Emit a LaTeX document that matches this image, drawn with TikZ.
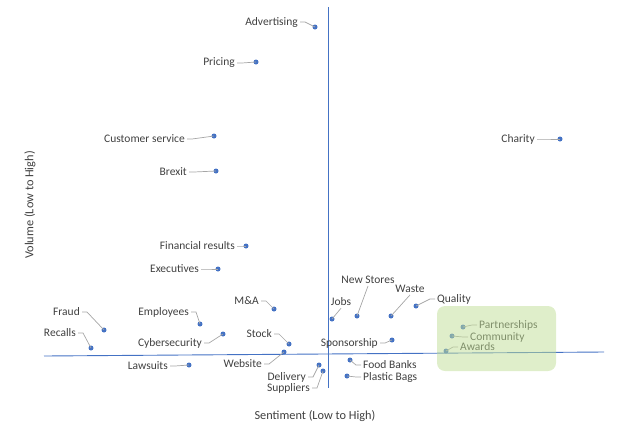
\documentclass[tikz,border=0pt]{standalone}
\usepackage{fontspec}
\setmainfont{Carlito}
\usepackage{tikz}

\definecolor{dotblue}{RGB}{68,114,196}
\definecolor{leadgray}{RGB}{166,166,166}
\definecolor{txtgray}{RGB}{64,64,64}
\definecolor{boxgreen}{RGB}{192,222,150}

\tikzset{
    dot/.style={circle,fill=dotblue,inner sep=0pt,minimum size=5pt},
    lbl/.style={inner sep=0pt,text=txtgray,font=\fontsize{11.5}{13}\selectfont},
    leader/.style={draw=leadgray,line width=0.7pt},
    axisline/.style={draw=dotblue,line width=0.9pt},
    axistitle/.style={text=txtgray,font=\fontsize{12.3}{14}\selectfont}
}

\begin{document}
\begin{tikzpicture}[x=1pt,y=-1pt] % pixel coordinates, y pointing down
        \useasboundingbox (0,0) rectangle (621,445);

        % the two axes through the middle
        \coordinate (hleft) at (44,356);
        \coordinate (hright) at (604,352);
        \coordinate (vtop) at (328,7);
        \coordinate (vbot) at (328,388);
        \draw[axisline] (hleft) -- (hright);
        \draw[axisline] (vtop) -- (vbot);

        \node[axistitle] (xtitle) at (315,416) {Sentiment (Low to High)};
        \node[axistitle,rotate=90] (ytitle) at (30,205) {Volume (Low to High)};

        \foreach \n/\x/\y in {adv/315/27, pri/256/62, cus/214/136, bre/216/171, fin/246/246,
            exe/218/269, cha/560/139, fra/104/330, rec/91/348, emp/200/324, mna/274/309,
            cyb/223/334, sto/289/344, web/284/352, law/189/365, del/319/365, sup/323/371,
            spo/392/340, qua/416/306, foo/350/360, pla/347/376, par/463/327, com/452/336,
            awa/446/351, job/332/319, new/357/316, was/391/316}{
            \node[dot] (\n) at (\x,\y) {}; % one dot per topic
        }

        % labels left of their dot
        \foreach \n/\x/\y/\t in {adv/298/22/Advertising, pri/235/63/Pricing,
            cus/185/139/Customer service, bre/187/172/Brexit, fin/235/246/Financial results,
            exe/199/269/Executives, cha/535/139/Charity, fra/80/312/Fraud, rec/76/333/Recalls,
            emp/189/312/Employees, mna/259/301/M\&A, cyb/202/343/Cybersecurity,
            sto/272/334/Stock, web/262/364/Website, law/168/366/Lawsuits,
            del/306/377/Delivery, sup/310/388/Suppliers, spo/378/343/Sponsorship}{
            \node[lbl,anchor=east] (l\n) at (\x,\y) {\t};
            \draw[leader] ([xshift=2pt]l\n.east) -- ++(5,0) -- (\n.center);
        }

        % labels right of their dot
        \foreach \n/\x/\y/\t in {qua/437/299/Quality, foo/363/365/Food Banks,
            pla/363/377/Plastic Bags, par/479/325/Partnerships, com/470/337/Community,
            awa/460/347/Awards}{
            \node[lbl,anchor=west] (l\n) at (\x,\y) {\t};
            \draw[leader] ([xshift=-2pt]l\n.west) -- ++(-5,0) -- (\n.center);
        }

        % labels above their dot
        \foreach \n/\x/\y/\t in {job/341/302/Jobs, new/368/280/New Stores, was/410/289/Waste}{
            \node[lbl] (l\n) at (\x,\y) {\t};
            \draw[leader] ([yshift=-2pt]l\n.south) -- (\n.center);
        }

        % highlighted group, laid over the points
        \fill[boxgreen,fill opacity=0.5,rounded corners=8pt] (437,306) rectangle (556,371);
\end{tikzpicture}
\end{document}
